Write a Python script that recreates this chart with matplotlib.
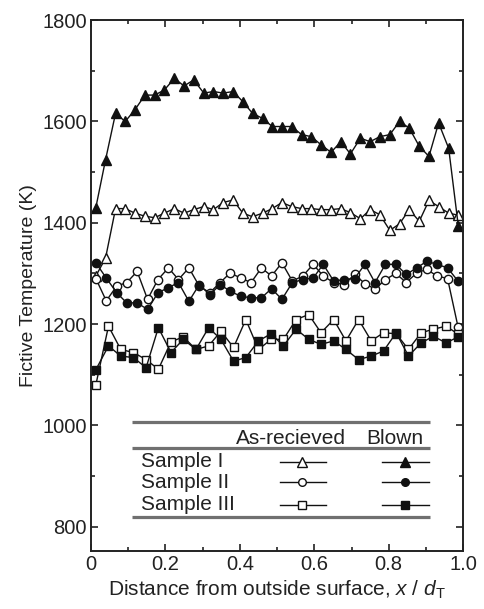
import matplotlib
matplotlib.use("Agg")
import matplotlib.pyplot as plt
from matplotlib.ticker import MultipleLocator

plt.rcParams["font.family"] = ["Liberation Sans", "DejaVu Sans"]
plt.rcParams["mathtext.fontset"] = "custom"
plt.rcParams["mathtext.rm"] = "Liberation Sans"
plt.rcParams["mathtext.it"] = "Liberation Sans:italic"

# ── dati ───────────────────────────────────────────────────────────────────
x_tri = [0.013, 0.039, 0.066, 0.092, 0.118, 0.145, 0.171, 0.197, 0.224, 0.250,
         0.276, 0.303, 0.329, 0.355, 0.382, 0.408, 0.434, 0.461, 0.487, 0.513,
         0.539, 0.566, 0.592, 0.618, 0.645, 0.671, 0.697, 0.724, 0.750, 0.776,
         0.803, 0.829, 0.855, 0.882, 0.908, 0.934, 0.961, 0.987]
blown_1 = [1430, 1524, 1616, 1600, 1623, 1652, 1652, 1662, 1685, 1670,
           1682, 1656, 1659, 1656, 1659, 1639, 1616, 1606, 1590, 1590,
           1590, 1574, 1570, 1554, 1539, 1560, 1536, 1567, 1560, 1570,
           1574, 1600, 1587, 1551, 1531, 1597, 1547, 1393]
asrec_1 = [1295, 1330, 1428, 1428, 1419, 1413, 1410, 1419, 1428, 1419,
           1426, 1432, 1426, 1440, 1445, 1419, 1412, 1419, 1428, 1440,
           1432, 1428, 1428, 1426, 1426, 1428, 1420, 1408, 1426, 1416,
           1385, 1398, 1426, 1403, 1444, 1432, 1419, 1415]

x_cir = [0.013, 0.041, 0.069, 0.096, 0.124, 0.152, 0.180, 0.208, 0.235, 0.263,
         0.291, 0.319, 0.347, 0.374, 0.402, 0.430, 0.458, 0.485, 0.513, 0.541,
         0.569, 0.597, 0.624, 0.652, 0.680, 0.708, 0.736, 0.763, 0.791, 0.819,
         0.847, 0.875, 0.902, 0.930, 0.958, 0.986]
blown_2 = [1321, 1291, 1262, 1242, 1242, 1229, 1262, 1272, 1282, 1245,
           1278, 1258, 1278, 1265, 1255, 1252, 1252, 1270, 1249, 1282,
           1288, 1291, 1318, 1285, 1288, 1290, 1318, 1282, 1318, 1318,
           1298, 1311, 1324, 1318, 1311, 1285]
asrec_2 = [1290, 1246, 1275, 1282, 1304, 1249, 1288, 1311, 1288, 1311,
           1275, 1262, 1282, 1301, 1291, 1282, 1311, 1295, 1321, 1285,
           1295, 1318, 1295, 1282, 1278, 1298, 1280, 1269, 1288, 1300,
           1282, 1301, 1308, 1295, 1290, 1195]

x_sq = [0.013, 0.047, 0.080, 0.114, 0.148, 0.181, 0.215, 0.248, 0.282, 0.316,
        0.349, 0.383, 0.416, 0.450, 0.484, 0.517, 0.551, 0.585, 0.618, 0.652,
        0.685, 0.719, 0.753, 0.786, 0.820, 0.853, 0.887, 0.920, 0.954, 0.987]
blown_3 = [1110, 1157, 1137, 1134, 1114, 1193, 1144, 1170, 1150, 1193,
           1170, 1127, 1134, 1167, 1181, 1157, 1190, 1170, 1160, 1167,
           1150, 1130, 1137, 1147, 1183, 1137, 1163, 1176, 1163, 1175]
asrec_3 = [1080, 1196, 1150, 1144, 1130, 1111, 1165, 1175, 1150, 1157,
           1186, 1154, 1209, 1150, 1170, 1170, 1209, 1219, 1183, 1209,
           1167, 1209, 1167, 1183, 1181, 1150, 1183, 1190, 1196, 1180]

samples = ["Sample I", "Sample II", "Sample III"]
markers = ["^", "o", "s"]
sizes = [7, 6, 6]

# ── figura ─────────────────────────────────────────────────────────────────
fig = plt.figure(figsize=(4.84, 6.09), dpi=100)
ax = fig.add_axes([0.188, 0.095, 0.769, 0.872])

series = [(x_tri, asrec_1, blown_1), (x_cir, asrec_2, blown_2), (x_sq, asrec_3, blown_3)]
for (xs, a, b), m, ms in zip(series, markers, sizes):
    ax.plot(xs, a, color="#111", lw=1, marker=m, ms=ms, mfc="white", mec="#111", mew=1)
    ax.plot(xs, b, color="#111", lw=1, marker=m, ms=ms, mfc="#111", mec="#111", mew=1)

ax.set_xlim(0, 1)
ax.set_ylim(752, 1800)
ax.xaxis.set_minor_locator(MultipleLocator(0.1))
ax.yaxis.set_minor_locator(MultipleLocator(100))
ax.set_yticks([800, 1000, 1200, 1400, 1600, 1800])
ax.set_xticks([0, 0.2, 0.4, 0.6, 0.8, 1.0])
ax.set_xticklabels(["0", "0.2", "0.4", "0.6", "0.8", "1.0"])
ax.tick_params(which="both", direction="in", top=True, right=True, labelsize=14.5,
               colors="#222", width=1.2)
ax.tick_params(which="major", length=5, pad=3)
ax.tick_params(which="minor", length=3)
for s in ax.spines.values():
    s.set_linewidth(1.4)
    s.set_color("#222")

ax.set_ylabel("Fictive Temperature (K)", fontsize=14, color="#222", labelpad=4)
ax.set_xlabel("Distance from outside surface, $x$ / $d_\\mathrm{T}$", fontsize=15,
              color="#222", labelpad=3)

# ── legenda a tabella ──────────────────────────────────────────────────────
tr = ax.transAxes
for yl in [0.243, 0.194, 0.064]:
    ax.plot([0.109, 0.911], [yl, yl], transform=tr, color="#707070", lw=2.3,
            solid_capstyle="butt")
ax.text(0.538, 0.213, "As-recieved", transform=tr, ha="center", va="center",
        fontsize=15, color="#222")
ax.text(0.815, 0.213, "Blown", transform=tr, ha="center", va="center",
        fontsize=15, color="#222")
rows = [0.168, 0.130, 0.087]
for name, m, ms, yr in zip(samples, markers, sizes, rows):
    ax.text(0.135, yr, name, transform=tr, ha="left", va="center", fontsize=15,
            color="#222")
    ax.plot([0.508, 0.632], [yr, yr], transform=tr, color="#111", lw=1)
    ax.plot([0.567], [yr], transform=tr, marker=m, ms=ms - 0.5, mfc="white",
            mec="#111", mew=1, ls="none")
    ax.plot([0.782, 0.907], [yr, yr], transform=tr, color="#111", lw=1)
    ax.plot([0.844], [yr], transform=tr, marker=m, ms=ms - 0.5, mfc="#111",
            mec="#111", mew=1, ls="none")

fig.savefig("out.png", dpi=100)
